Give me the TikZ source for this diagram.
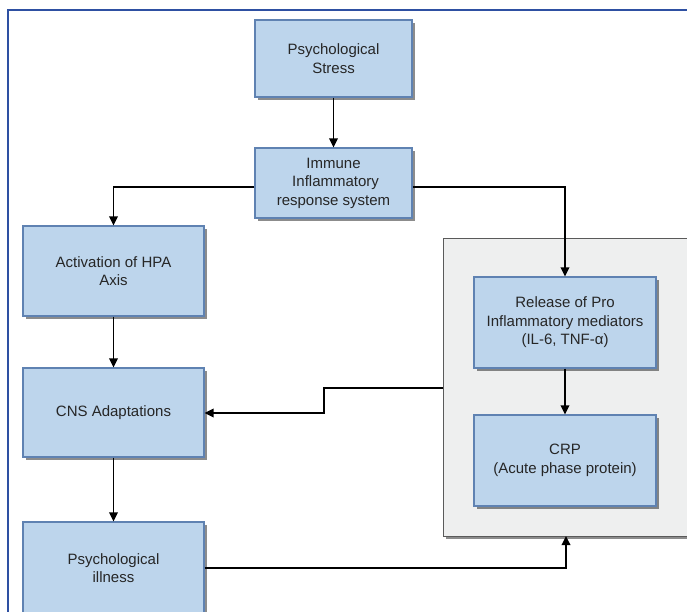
\documentclass[tikz,border=0pt]{standalone}
\usepackage{fontspec}
\setmainfont{Liberation Sans}
\usetikzlibrary{arrows.meta,shadows}
\definecolor{boxfill}{HTML}{BDD5EC}
\definecolor{boxline}{HTML}{5F82B2}
\definecolor{grpfill}{HTML}{EEEFEF}
\definecolor{grpline}{HTML}{5A5A5A}
\definecolor{frameblue}{HTML}{2E50A2}
\definecolor{txt}{HTML}{262626}
\tikzset{
  bluebox/.style={draw=boxline, line width=1.2pt, fill=boxfill, align=center,
    inner sep=2pt, text=txt, font=\fontsize{15}{18.5}\selectfont,
    drop shadow={shadow xshift=2.5pt, shadow yshift=-2.5pt, fill=black, opacity=0.45}},
  grpbox/.style={draw=grpline, line width=1.2pt, fill=grpfill,
    drop shadow={shadow xshift=2.5pt, shadow yshift=-2.5pt, fill=black, opacity=0.45}},
  conn/.style={line width=1.8pt, draw=black, -{Triangle[length=9pt,width=8.5pt]}},
}
\begin{document}
\begin{tikzpicture}[x=1pt,y=-1pt]
\useasboundingbox (0,0) rectangle (687,611);
\clip (0,0) rectangle (687,611);
% outer frame
\draw[frameblue, line width=2pt] (8,620) -- (8,10) -- (700,10);
% gray group container
\node[grpbox, minimum width=260pt, minimum height=298pt, anchor=north west, inner sep=0pt] (grp) at (443,238) {};
\coordinate (grpL) at (443,388);
\coordinate (grpB) at (566,536);
% boxes
\node[bluebox, minimum width=157pt, minimum height=77pt] (stress) at (333.5,58.5) {Psychological\\Stress};
\node[bluebox, minimum width=157pt, minimum height=70pt] (immune) at (333.5,183) {Immune\\\ Inflammatory\\response system};
\node[bluebox, minimum width=181pt, minimum height=90pt] (hpa) at (113.5,271) {Activation of HPA\\Axis};
\node[bluebox, minimum width=181pt, minimum height=89pt] (cns) at (113.5,412.5) {CNS Adaptations};
\node[bluebox, minimum width=181pt, minimum height=92pt] (ill) at (113.5,568) {Psychological\\illness};
\node[bluebox, minimum width=182pt, minimum height=91pt] (rel) at (565,322.5) {Release of Pro\\Inflammatory mediators\\(IL-6, TNF-α)};
\node[bluebox, minimum width=182pt, minimum height=91pt] (crp) at (565,460.5) {CRP\\(Acute phase protein)};
% connectors
\draw[conn] (stress.south) -- (immune.north);
\draw[conn] ([yshift=-4pt]immune.west) -| (hpa.north);
\draw[conn] ([yshift=-4pt]immune.east) -| (rel.north);
\draw[conn] (hpa.south) -- (cns.north);
\draw[conn] (cns.south) -- (ill.north);
\draw[conn] (rel.south) -- (crp.north);
\draw[conn] (grpL) -- (324,388) -- (324,413) -- (cns.east |- 0,413);
\draw[conn] (ill.east |- 0,568) -- (566,568) -- (grpB);
\end{tikzpicture}
\end{document}
